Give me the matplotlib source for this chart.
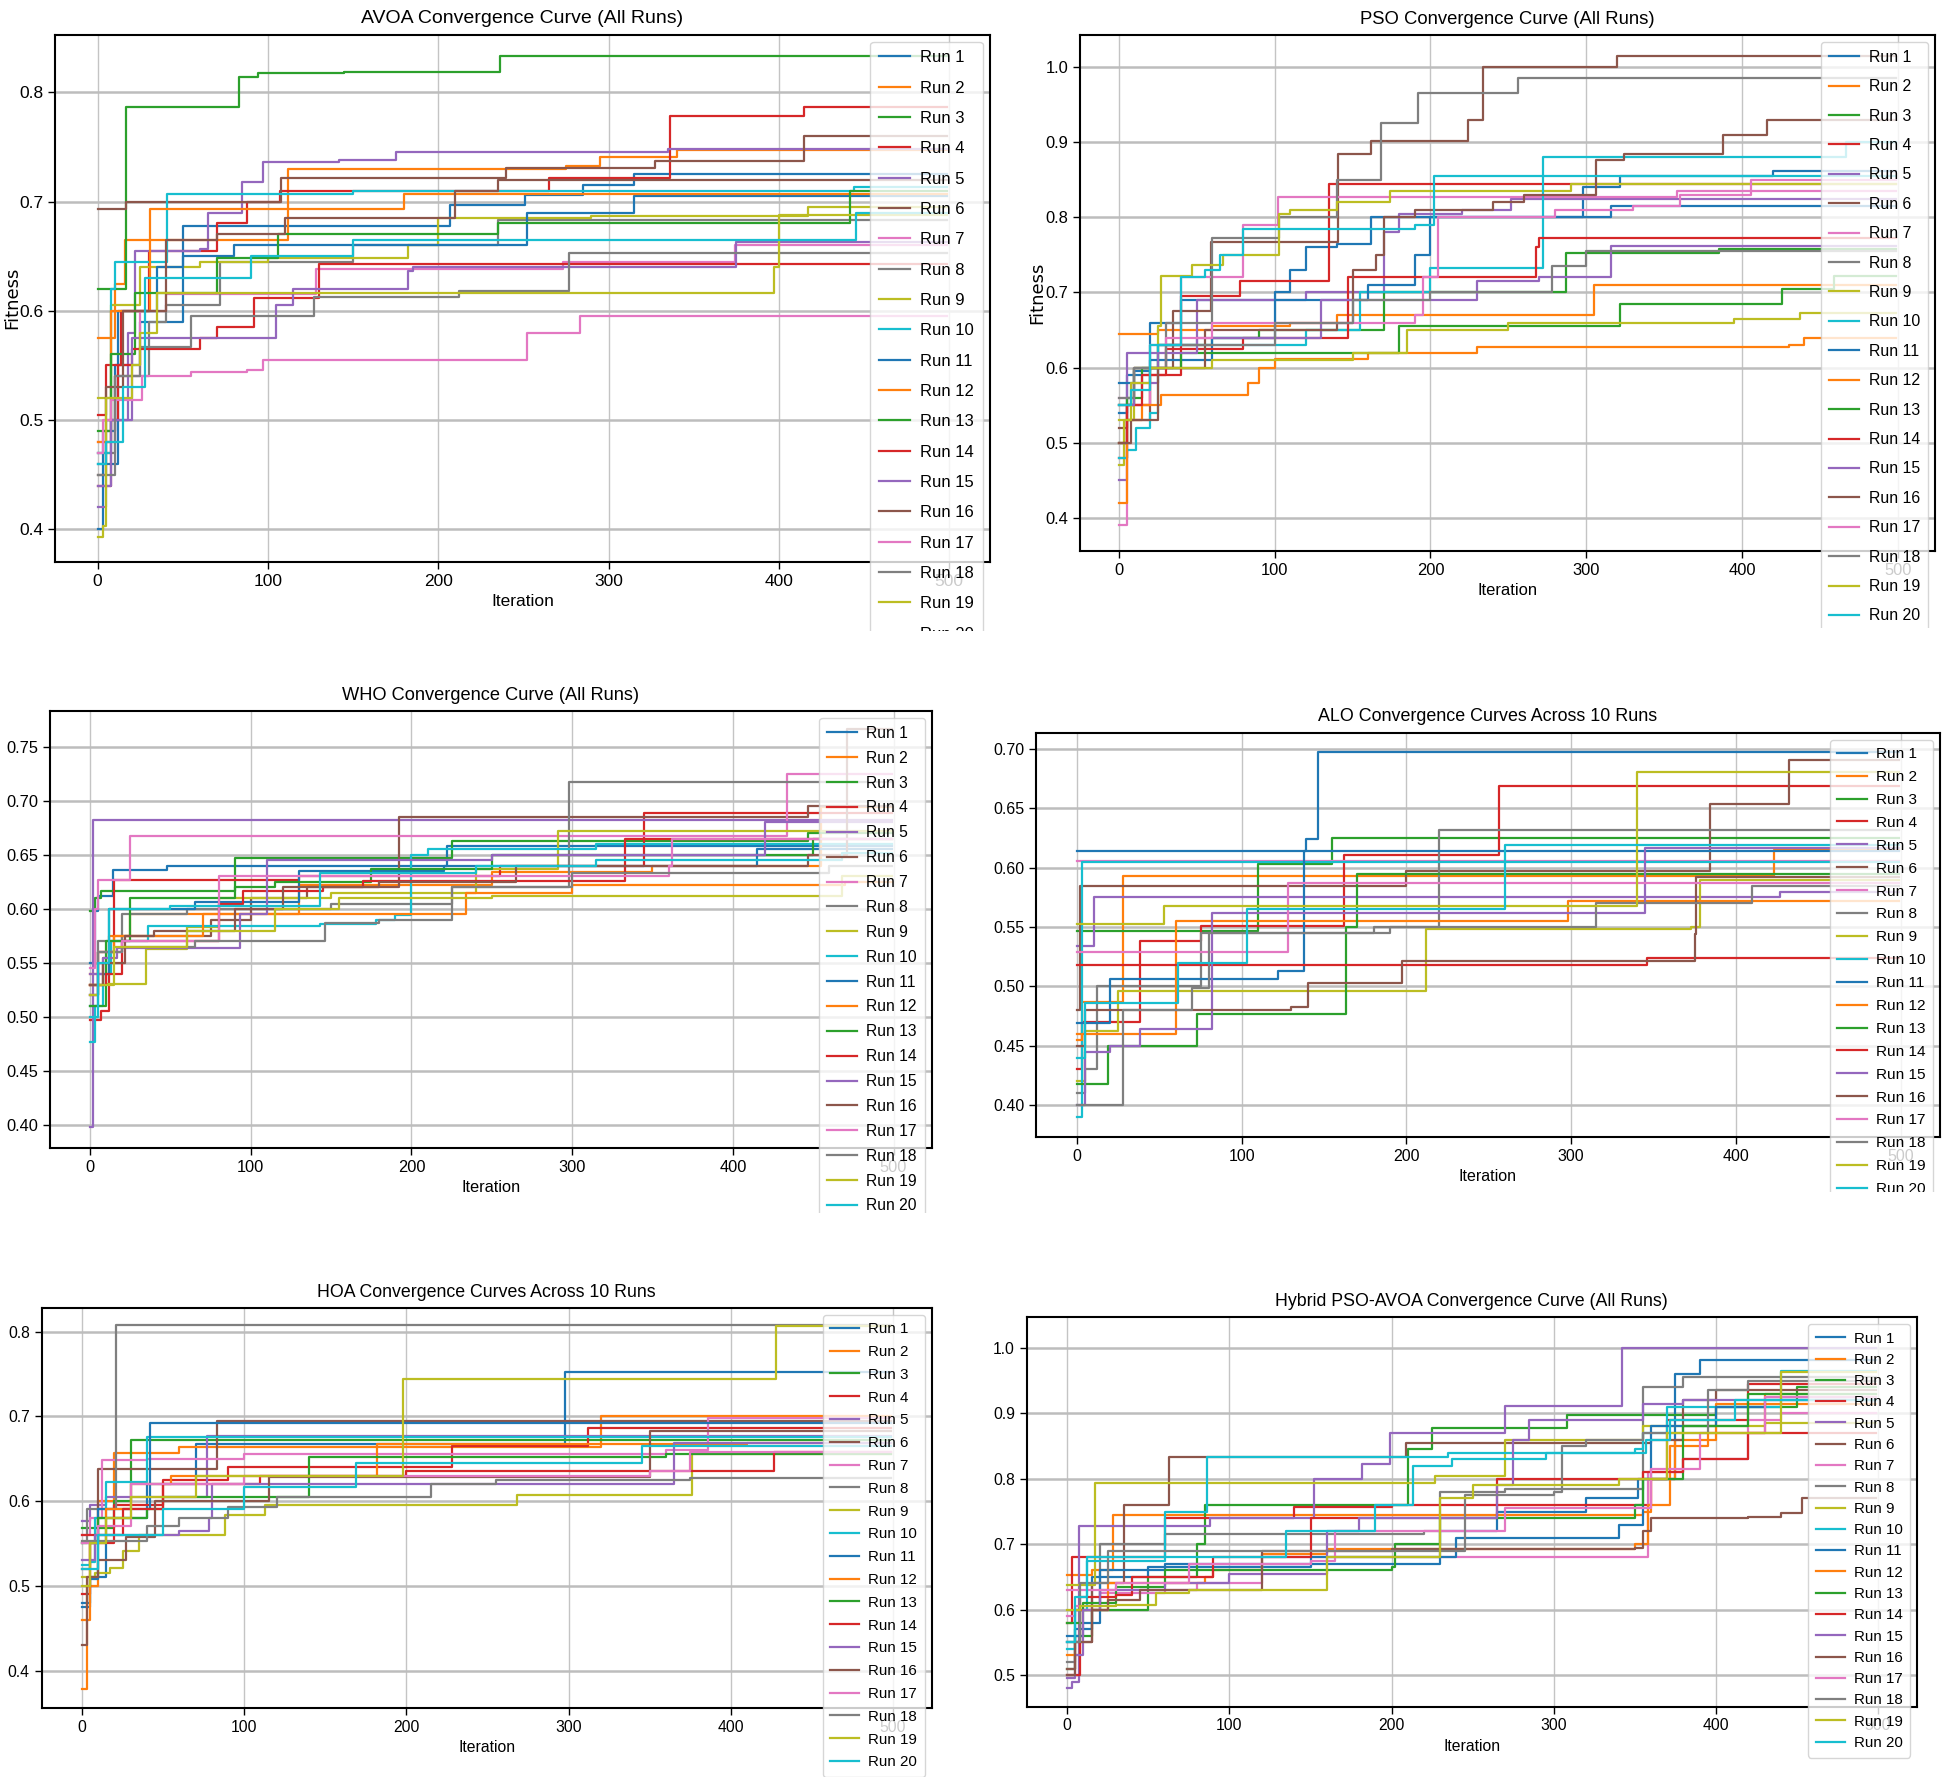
import matplotlib.pyplot as plt
from matplotlib import font_manager
from matplotlib.transforms import Bbox, TransformedBbox

N_ITER = 500
RUN_LABELS = [f"Run {i}" for i in range(1, 21)]

# each run: (iteration, best fitness) at the points where the curve steps up
avoa_runs = [
    [(0, 0.400), (3, 0.490), (10, 0.550), (25, 0.590), (50, 0.678), (207, 0.697), (251, 0.706), (285, 0.715), (315, 0.725)],
    [(0, 0.575), (10, 0.625), (16, 0.665), (112, 0.730), (275, 0.733), (295, 0.741), (340, 0.747)],
    [(0, 0.620), (17, 0.787), (83, 0.814), (94, 0.818), (145, 0.819), (236, 0.833)],
    [(0, 0.505), (5, 0.550), (14, 0.600), (30, 0.655), (70, 0.680), (88, 0.700), (107, 0.710), (265, 0.722), (336, 0.778), (415, 0.787)],
    [(0, 0.420), (5, 0.500), (18, 0.580), (22, 0.655), (60, 0.657), (65, 0.690), (85, 0.718), (97, 0.736), (142, 0.738), (175, 0.745), (335, 0.748)],
    [(0, 0.693), (17, 0.700), (108, 0.722), (240, 0.731), (327, 0.737), (415, 0.760)],
    [(0, 0.480), (10, 0.540), (25, 0.600), (40, 0.615), (128, 0.638), (273, 0.645), (374, 0.660)],
    [(0, 0.470), (10, 0.540), (30, 0.590), (40, 0.605), (72, 0.645), (150, 0.660), (235, 0.683)],
    [(0, 0.520), (8, 0.605), (25, 0.640), (60, 0.645), (100, 0.648), (182, 0.660), (200, 0.685), (290, 0.687), (417, 0.695)],
    [(0, 0.470), (8, 0.620), (10, 0.645), (41, 0.707), (150, 0.710), (444, 0.713)],
    [(0, 0.460), (12, 0.600), (35, 0.640), (50, 0.650), (80, 0.660), (252, 0.690), (315, 0.705)],
    [(0, 0.480), (8, 0.600), (31, 0.693), (180, 0.707)],
    [(0, 0.490), (8, 0.560), (22, 0.616), (70, 0.648), (106, 0.670), (235, 0.680), (442, 0.710)],
    [(0, 0.440), (8, 0.500), (12, 0.550), (20, 0.565), (60, 0.575), (70, 0.585), (92, 0.612), (130, 0.643)],
    [(0, 0.440), (8, 0.500), (20, 0.575), (105, 0.605), (115, 0.620), (182, 0.636), (185, 0.640), (375, 0.663)],
    [(0, 0.450), (5, 0.530), (15, 0.600), (40, 0.665), (70, 0.670), (110, 0.685), (210, 0.710), (235, 0.720)],
    [(0, 0.470), (3, 0.500), (8, 0.518), (26, 0.540), (55, 0.544), (88, 0.546), (97, 0.555), (252, 0.580), (283, 0.595)],
    [(0, 0.450), (10, 0.540), (25, 0.567), (55, 0.595), (127, 0.613), (212, 0.618), (277, 0.653)],
    [(0, 0.393), (3, 0.403), (5, 0.520), (20, 0.550), (25, 0.580), (35, 0.616), (397, 0.640), (400, 0.688)],
    [(0, 0.460), (5, 0.480), (15, 0.530), (28, 0.630), (90, 0.650), (150, 0.665), (445, 0.690)],
]

pso_runs = [
    [(0, 0.540), (5, 0.590), (20, 0.660), (40, 0.690), (100, 0.700), (110, 0.730), (120, 0.760), (140, 0.765), (162, 0.800), (298, 0.840), (322, 0.855), (420, 0.862)],
    [(0, 0.645), (25, 0.650), (60, 0.655), (110, 0.660), (140, 0.670), (305, 0.710)],
    [(0, 0.550), (10, 0.600), (25, 0.630), (60, 0.640), (90, 0.650), (170, 0.700), (287, 0.752), (385, 0.758)],
    [(0, 0.480), (5, 0.550), (20, 0.590), (40, 0.695), (78, 0.715), (135, 0.845)],
    [(0, 0.450), (5, 0.620), (25, 0.630), (50, 0.690), (120, 0.700), (170, 0.780), (180, 0.805), (220, 0.810), (252, 0.825)],
    [(0, 0.520), (5, 0.530), (20, 0.600), (35, 0.675), (59, 0.767), (141, 0.884), (162, 0.901), (224, 0.930), (234, 1.000), (320, 1.015)],
    [(0, 0.390), (5, 0.550), (20, 0.630), (40, 0.720), (80, 0.790), (102, 0.827), (358, 0.835)],
    [(0, 0.550), (10, 0.600), (30, 0.660), (60, 0.773), (103, 0.800), (140, 0.850), (168, 0.925), (192, 0.965), (256, 0.985)],
    [(0, 0.470), (3, 0.530), (10, 0.600), (25, 0.655), (27, 0.722), (47, 0.737), (67, 0.750), (103, 0.805), (110, 0.810), (140, 0.820), (174, 0.835), (290, 0.845)],
    [(0, 0.480), (5, 0.490), (11, 0.520), (20, 0.540), (25, 0.630), (120, 0.650), (155, 0.700), (200, 0.733), (272, 0.880), (467, 0.900)],
    [(0, 0.580), (10, 0.595), (20, 0.610), (60, 0.640), (100, 0.690), (160, 0.710), (190, 0.750), (200, 0.800), (316, 0.815)],
    [(0, 0.420), (5, 0.530), (15, 0.550), (27, 0.563), (83, 0.580), (90, 0.600), (100, 0.612), (160, 0.620), (230, 0.627), (430, 0.630), (440, 0.640)],
    [(0, 0.500), (5, 0.560), (15, 0.600), (40, 0.620), (180, 0.655), (322, 0.685), (426, 0.705), (459, 0.722)],
    [(0, 0.500), (5, 0.550), (15, 0.590), (30, 0.625), (80, 0.640), (147, 0.720), (268, 0.760), (270, 0.772)],
    [(0, 0.550), (10, 0.580), (25, 0.620), (50, 0.640), (130, 0.690), (230, 0.715), (270, 0.720), (316, 0.762)],
    [(0, 0.500), (8, 0.530), (25, 0.600), (55, 0.650), (140, 0.660), (150, 0.730), (165, 0.750), (170, 0.800), (190, 0.810), (240, 0.820), (260, 0.830), (306, 0.876), (324, 0.884), (388, 0.910), (416, 0.930)],
    [(0, 0.560), (10, 0.600), (30, 0.640), (60, 0.660), (190, 0.670), (195, 0.720), (205, 0.800), (280, 0.810), (330, 0.815), (360, 0.830), (406, 0.850)],
    [(0, 0.560), (10, 0.600), (30, 0.630), (100, 0.660), (150, 0.690), (200, 0.700), (278, 0.735), (300, 0.755)],
    [(0, 0.530), (8, 0.580), (20, 0.600), (60, 0.610), (150, 0.620), (185, 0.650), (250, 0.660), (395, 0.665), (437, 0.673)],
    [(0, 0.550), (8, 0.570), (20, 0.630), (40, 0.720), (55, 0.730), (65, 0.750), (80, 0.785), (190, 0.790), (202, 0.855)],
]

who_runs = [
    [(0, 0.550), (3, 0.598), (5, 0.612), (14, 0.636), (48, 0.640), (222, 0.658)],
    [(0, 0.530), (8, 0.555), (12, 0.575), (25, 0.595), (130, 0.622), (250, 0.634), (350, 0.640), (455, 0.694)],
    [(0, 0.598), (3, 0.610), (7, 0.617), (90, 0.647), (225, 0.663), (447, 0.670)],
    [(0, 0.497), (7, 0.506), (12, 0.560), (15, 0.627), (130, 0.630), (255, 0.640), (345, 0.689)],
    [(0, 0.398), (2, 0.682)],
    [(0, 0.530), (5, 0.560), (20, 0.575), (75, 0.590), (100, 0.610), (135, 0.620), (192, 0.685), (447, 0.695)],
    [(0, 0.545), (3, 0.600), (5, 0.627), (25, 0.667), (434, 0.725)],
    [(0, 0.520), (5, 0.570), (20, 0.595), (60, 0.600), (150, 0.605), (225, 0.620), (298, 0.717)],
    [(0, 0.530), (10, 0.531), (35, 0.563), (60, 0.583), (80, 0.610), (150, 0.615), (240, 0.637), (291, 0.672)],
    [(0, 0.477), (3, 0.510), (8, 0.540), (13, 0.570), (36, 0.584), (143, 0.586), (178, 0.590), (190, 0.594), (200, 0.650), (210, 0.655), (315, 0.660)],
    [(0, 0.510), (5, 0.540), (12, 0.600), (65, 0.606), (130, 0.635), (220, 0.640), (415, 0.655)],
    [(0, 0.540), (5, 0.560), (15, 0.575), (70, 0.595), (234, 0.615), (300, 0.622), (470, 0.625)],
    [(0, 0.510), (10, 0.570), (25, 0.610), (90, 0.620), (115, 0.625), (175, 0.637), (250, 0.650), (450, 0.665)],
    [(0, 0.530), (10, 0.540), (20, 0.570), (80, 0.605), (95, 0.617), (145, 0.620), (170, 0.626), (333, 0.665)],
    [(0, 0.540), (8, 0.555), (17, 0.564), (93, 0.595), (110, 0.645), (250, 0.650), (420, 0.680)],
    [(0, 0.530), (8, 0.550), (22, 0.575), (40, 0.580), (90, 0.600), (120, 0.620), (180, 0.625), (265, 0.640), (447, 0.650), (471, 0.766)],
    [(0, 0.520), (5, 0.560), (20, 0.570), (80, 0.630), (360, 0.640), (362, 0.665)],
    [(0, 0.520), (5, 0.560), (20, 0.565), (65, 0.570), (146, 0.587), (180, 0.590), (225, 0.620), (300, 0.633), (460, 0.640)],
    [(0, 0.520), (5, 0.530), (15, 0.565), (60, 0.580), (115, 0.600), (155, 0.610), (250, 0.612), (468, 0.630)],
    [(0, 0.500), (5, 0.550), (12, 0.600), (50, 0.603), (143, 0.633), (240, 0.640), (315, 0.645), (468, 0.652)],
]

alo_runs = [
    [(0, 0.614), (139, 0.624), (146, 0.698)],
    [(0, 0.460), (3, 0.487), (28, 0.593), (423, 0.615)],
    [(0, 0.547), (110, 0.603), (155, 0.625)],
    [(0, 0.430), (3, 0.470), (38, 0.538), (75, 0.551), (162, 0.611), (256, 0.669)],
    [(0, 0.534), (10, 0.575), (427, 0.580)],
    [(0, 0.480), (2, 0.585), (200, 0.597), (384, 0.654), (432, 0.691)],
    [(0, 0.606)],
    [(0, 0.410), (5, 0.430), (12, 0.500), (75, 0.545), (180, 0.550), (220, 0.632)],
    [(0, 0.420), (5, 0.462), (25, 0.496), (212, 0.548), (373, 0.550), (378, 0.590)],
    [(0, 0.390), (3, 0.605)],
    [(0, 0.469), (20, 0.506), (122, 0.513), (138, 0.614)],
    [(0, 0.455), (3, 0.460), (60, 0.555), (298, 0.572)],
    [(0, 0.418), (19, 0.450), (73, 0.477), (163, 0.550), (170, 0.595)],
    [(0, 0.518), (346, 0.524)],
    [(0, 0.400), (5, 0.445), (20, 0.450), (38, 0.464), (82, 0.562), (345, 0.617)],
    [(0, 0.450), (5, 0.480), (130, 0.483), (140, 0.503), (197, 0.521), (375, 0.544), (376, 0.592)],
    [(0, 0.529), (128, 0.587)],
    [(0, 0.400), (28, 0.480), (70, 0.499), (80, 0.545), (190, 0.550), (315, 0.570), (410, 0.585)],
    [(0, 0.553), (53, 0.568), (340, 0.681)],
    [(0, 0.440), (5, 0.486), (61, 0.520), (103, 0.565), (260, 0.619)],
]

hoa_runs = [
    [(0, 0.480), (5, 0.510), (15, 0.580), (40, 0.620), (70, 0.667), (298, 0.752)],
    [(0, 0.378), (3, 0.500), (10, 0.600), (20, 0.657), (60, 0.664), (320, 0.700)],
    [(0, 0.568), (20, 0.600), (30, 0.672)],
    [(0, 0.490), (5, 0.550), (20, 0.595), (50, 0.625), (90, 0.640), (228, 0.665), (312, 0.686)],
    [(0, 0.577), (5, 0.595), (15, 0.605), (77, 0.677)],
    [(0, 0.520), (5, 0.550), (10, 0.638), (83, 0.694)],
    [(0, 0.560), (5, 0.580), (12, 0.648), (40, 0.650), (100, 0.655), (360, 0.660), (386, 0.698)],
    [(0, 0.550), (3, 0.590), (21, 0.808)],
    [(0, 0.510), (8, 0.515), (17, 0.521), (25, 0.541), (35, 0.560), (88, 0.583), (113, 0.595), (268, 0.607), (376, 0.655)],
    [(0, 0.525), (5, 0.528), (8, 0.580), (15, 0.622), (40, 0.675)],
    [(0, 0.475), (5, 0.508), (10, 0.590), (42, 0.692)],
    [(0, 0.460), (5, 0.550), (15, 0.590), (30, 0.620), (55, 0.630), (182, 0.667), (410, 0.668)],
    [(0, 0.550), (10, 0.580), (40, 0.590), (50, 0.605), (140, 0.652), (360, 0.655)],
    [(0, 0.560), (25, 0.590), (50, 0.620), (110, 0.630), (200, 0.635), (427, 0.658)],
    [(0, 0.530), (8, 0.560), (60, 0.565), (78, 0.580), (80, 0.620), (365, 0.668)],
    [(0, 0.430), (3, 0.510), (10, 0.530), (27, 0.558), (45, 0.600), (115, 0.628), (350, 0.683)],
    [(0, 0.550), (10, 0.570), (30, 0.620), (100, 0.630), (350, 0.635), (375, 0.658)],
    [(0, 0.553), (40, 0.570), (60, 0.580), (90, 0.593), (120, 0.605), (215, 0.620), (255, 0.625), (375, 0.627)],
    [(0, 0.500), (5, 0.550), (15, 0.580), (30, 0.605), (70, 0.630), (198, 0.744), (428, 0.806)],
    [(0, 0.520), (10, 0.560), (50, 0.590), (100, 0.617), (169, 0.645), (345, 0.665)],
]

hybrid_runs = [
    [(0, 0.550), (5, 0.570), (15, 0.650), (50, 0.665), (150, 0.670), (230, 0.720), (265, 0.750), (320, 0.770), (352, 0.800), (375, 0.960), (390, 0.982)],
    [(0, 0.653), (15, 0.660), (28, 0.745), (355, 0.750), (360, 0.800), (375, 0.860), (400, 0.915)],
    [(0, 0.510), (5, 0.560), (15, 0.600), (50, 0.650), (80, 0.700), (85, 0.760), (210, 0.845), (225, 0.878), (308, 0.898), (400, 0.910), (450, 0.940)],
    [(0, 0.580), (3, 0.680), (60, 0.740), (140, 0.757), (200, 0.760), (360, 0.800), (370, 0.890), (420, 0.945)],
    [(0, 0.480), (3, 0.490), (7, 0.728), (88, 0.740), (152, 0.800), (182, 0.822), (199, 0.870), (270, 0.912), (342, 1.000)],
    [(0, 0.510), (5, 0.550), (15, 0.640), (35, 0.760), (63, 0.833), (209, 0.855), (360, 0.860), (380, 0.920), (400, 0.935)],
    [(0, 0.590), (5, 0.605), (20, 0.625), (60, 0.630), (80, 0.640), (120, 0.680), (358, 0.810), (380, 0.830), (420, 0.890), (440, 0.900)],
    [(0, 0.520), (5, 0.600), (20, 0.700), (60, 0.715), (220, 0.720), (230, 0.780), (270, 0.785), (355, 0.940), (380, 0.955)],
    [(0, 0.638), (17, 0.794), (227, 0.805), (270, 0.860), (355, 0.880), (430, 0.885)],
    [(0, 0.540), (5, 0.600), (12, 0.675), (60, 0.750), (86, 0.834), (235, 0.840), (350, 0.845), (355, 0.870), (370, 0.910), (440, 0.965)],
    [(0, 0.560), (10, 0.580), (20, 0.660), (60, 0.670), (150, 0.680), (240, 0.710), (340, 0.730), (355, 0.800), (360, 0.880), (400, 0.910), (430, 0.920)],
    [(0, 0.530), (8, 0.600), (25, 0.640), (85, 0.650), (90, 0.660), (120, 0.685), (160, 0.693), (350, 0.700), (358, 0.760), (372, 0.850), (395, 0.870), (430, 0.930)],
    [(0, 0.580), (10, 0.610), (30, 0.635), (60, 0.660), (200, 0.665), (202, 0.700), (230, 0.740), (350, 0.760), (355, 0.800), (380, 0.880), (420, 0.930)],
    [(0, 0.500), (8, 0.620), (30, 0.623), (40, 0.650), (90, 0.680), (150, 0.740), (265, 0.800), (355, 0.810), (380, 0.830), (420, 0.870)],
    [(0, 0.495), (5, 0.530), (10, 0.600), (20, 0.630), (60, 0.640), (100, 0.655), (160, 0.720), (180, 0.740), (265, 0.790), (275, 0.860), (285, 0.890), (355, 0.915), (380, 0.920)],
    [(0, 0.500), (5, 0.550), (15, 0.600), (25, 0.615), (45, 0.630), (120, 0.690), (200, 0.693), (350, 0.695), (355, 0.720), (360, 0.740), (420, 0.742), (440, 0.747), (453, 0.770)],
    [(0, 0.630), (30, 0.640), (75, 0.670), (150, 0.675), (165, 0.720), (270, 0.755), (360, 0.815), (390, 0.870), (430, 0.925)],
    [(0, 0.550), (8, 0.640), (25, 0.690), (245, 0.775), (300, 0.780), (305, 0.850), (320, 0.860), (355, 0.870), (395, 0.935), (420, 0.950)],
    [(0, 0.600), (8, 0.605), (30, 0.607), (55, 0.625), (75, 0.630), (160, 0.680), (230, 0.770), (250, 0.790), (340, 0.800), (370, 0.870), (440, 0.963)],
    [(0, 0.550), (5, 0.620), (12, 0.680), (135, 0.720), (190, 0.760), (213, 0.820), (237, 0.830), (295, 0.840), (357, 0.860), (372, 0.890), (412, 0.920)],
]

# layout in pixels of the 1948x1777 image:
# title, runs, axes box (left, top, right, bottom), y-limits, y-label, legend cut box, text scale, legend row spacing
W, H = 1948, 1777
panels = [
    ("AVOA Convergence Curve (All Runs)", avoa_runs, (55, 34.5, 990, 562), (0.370, 0.853), True, (0, 0, 1005, 631), 1.00, 0.92),
    ("PSO Convergence Curve (All Runs)", pso_runs, (1080, 34.7, 1935, 551), (0.356, 1.043), True, (1005, 0, W, 628), 0.95, 0.91),
    ("WHO Convergence Curve (All Runs)", who_runs, (50, 711, 932, 1148), (0.379, 0.783), False, (0, 650, 1005, 1213), 0.94, 0.63),
    ("ALO Convergence Curves Across 10 Runs", alo_runs, (1036, 732.6, 1940, 1137), (0.373, 0.714), False, (1005, 650, W, 1192), 0.92, 0.58),
    ("HOA Convergence Curves Across 10 Runs", hoa_runs, (41.6, 1307.8, 931.7, 1707.8), (0.356, 0.828), False, (0, 1240, 1005, H), 0.91, 0.58),
    ("Hybrid PSO-AVOA Convergence Curve (All Runs)", hybrid_runs, (1026.8, 1317.2, 1916.9, 1706.5), (0.452, 1.047), False, (1005, 1240, W, 1765), 0.91, 0.48),
]

names = {f.name for f in font_manager.fontManager.ttflist}
main_font = "Liberation Sans Narrow" if "Liberation Sans Narrow" in names else "Liberation Sans"
plt.rcParams["font.family"] = [main_font, "DejaVu Sans"]

fig = plt.figure(figsize=(W / 100, H / 100), dpi=100)

for title, runs, (l, t, r, b), ylim, has_ylabel, (cx0, cy0, cx1, cy1), s, lspace in panels:
    ax = fig.add_axes([l / W, 1 - b / H, (r - l) / W, (b - t) / H])
    for run, label in zip(runs, RUN_LABELS):
        xs = [p[0] for p in run] + [N_ITER - 1]
        ys = [p[1] for p in run] + [run[-1][1]]
        ax.plot(xs, ys, drawstyle="steps-post", lw=1.6, label=label)
    ax.set_ylim(*ylim)
    ax.set_title(title, fontsize=14 * s, pad=8)
    ax.set_xlabel("Iteration", fontsize=12.5 * s)
    if has_ylabel:
        ax.set_ylabel("Fitness", fontsize=13, family="DejaVu Sans")
        ax.yaxis.set_label_coords(-34 / (r - l), 0.5)
    ax.tick_params(labelsize=12.5 * s, length=5, width=1)
    ax.grid(axis="x", color="#c4c4c4", lw=1.0)
    ax.grid(axis="y", color="#bdbdbd", lw=1.8)
    for sp in ax.spines.values():
        sp.set_linewidth(1.5)
    leg = ax.legend(loc="upper right", fontsize=12 * s, handlelength=1.9, handletextpad=0.6,
                    labelspacing=lspace, borderaxespad=0.45, borderpad=0.5)
    clip = TransformedBbox(Bbox.from_extents(cx0 / W, 1 - cy1 / H, cx1 / W, 1 - cy0 / H), fig.transFigure)
    for a in leg.findobj():
        a.set_clip_box(clip)
        a.set_clip_on(True)

fig.savefig("out.png", dpi=100, facecolor="white")
